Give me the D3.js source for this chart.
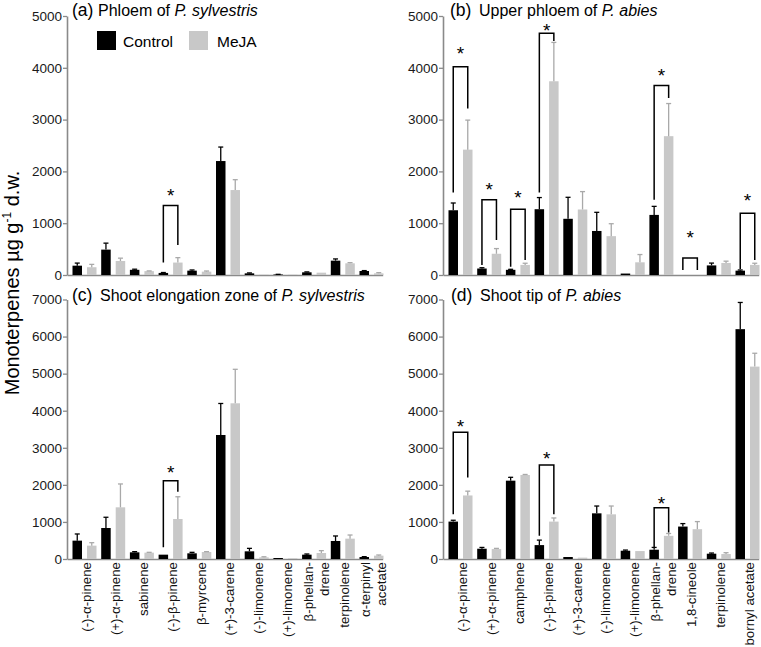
<!DOCTYPE html>
<html><head><meta charset="utf-8">
<script src="https://cdn.jsdelivr.net/npm/d3@7"></script>
<style>
body{margin:0;background:#fff}
svg{display:block}
text{font-family:"Liberation Sans",Arial,Helvetica,sans-serif}
</style>
</head><body>
<svg id="chart" width="761" height="647"></svg>
<script>
// ---------------- DATA ----------------
const seriesNames = ["Control", "MeJA"];

const categoriesSylvestris = ["(-)-α-pinene", "(+)-α-pinene", "sabinene", "(-)-β-pinene", "β-myrcene",
  "(+)-3-carene", "(-)-limonene", "(+)-limonene", "β-phellan-\ndrene", "terpinolene", "α-terpinyl\nacetate"];
const categoriesAbies = ["(-)-α-pinene", "(+)-α-pinene", "camphene", "(-)-β-pinene", "(+)-3-carene",
  "(-)-limonene", "(+)-limonene", "β-phellan-\ndrene", "1,8-cineole", "terpinolene", "bornyl acetate"];

const yTicksTop = [0, 1000, 2000, 3000, 4000, 5000];
const yTicksBottom = [0, 1000, 2000, 3000, 4000, 5000, 6000, 7000];

// (a) Phloem of P. sylvestris
const aControl    = [180, 490, 100, 40, 84, 2200, 32, 10, 52, 277, 77];
const aControlErr = [50, 125, 12, 8, 13, 270, 8, 3, 8, 33, 8];
const aMeja       = [150, 270, 75, 240, 65, 1640, 5, 5, 45, 226, 32];
const aMejaErr    = [55, 55, 4, 95, 12, 200, 0, 0, 0, 13, 13];
// brackets: [category index, top, left leg bottom, right leg bottom, star centre]
const aBrackets   = [[3, 1342, 240, 580, 1630]];

// (b) Upper phloem of P. abies
const bControl    = [1250, 125, 100, 1270, 1085, 850, 28, 1160, 0, 185, 84];
const bControlErr = [140, 15, 10, 225, 415, 360, 0, 165, 0, 45, 13];
const bMeja       = [2420, 410, 195, 3740, 1265, 750, 245, 2680, 0, 232, 195];
const bMejaErr    = [570, 100, 32, 750, 345, 240, 150, 630, 0, 35, 32];
const bBrackets   = [[0, 4019, 1594, 3213, 4355], [1, 1452, 194, 677, 1742], [2, 1271, 160, 290, 1580],
  [3, 4665, 1594, 4516, 4800], [7, 3658, 1452, 3419, 3935], [8, 329, 95, 95, 806], [10, 1194, 116, 290, 1516]];

// (c) Shoot elongation zone of P. sylvestris
const cControl    = [495, 836, 180, 117, 153, 3345, 207, 27, 117, 486, 54];
const cControlErr = [180, 290, 18, 0, 27, 850, 80, 0, 18, 135, 9];
const cMeja       = [360, 1394, 171, 1079, 189, 4200, 45, 18, 162, 549, 90];
const cMejaErr    = [80, 630, 9, 600, 9, 917, 15, 0, 63, 98, 18];
const cBrackets   = [[3, 2113, 315, 1816, 2463]];

// (d) Shoot tip of P. abies
const dControl    = [1009, 277, 2113, 375, 54, 1232, 223, 250, 875, 143, 6200];
const dControlErr = [36, 35, 91, 134, 0, 197, 18, 62, 80, 18, 720];
const dMeja       = [1714, 268, 2266, 1009, 36, 1205, 214, 625, 804, 134, 5190];
const dMejaErr    = [116, 18, 14, 98, 0, 224, 0, 63, 205, 36, 360];
const dBrackets   = [[0, 3418, 1205, 2200, 3704], [3, 2536, 625, 1205, 2824], [7, 1384, 312, 714, 1607]];

// ---------------- LAYOUT ----------------
const panels = [
  {tag: "(a)", title: "Phloem of ", species: "P. sylvestris", cats: categoriesSylvestris,
   vals: [aControl, aMeja], errs: [aControlErr, aMejaErr], brackets: aBrackets, ticks: yTicksTop,
   left: 67, base: 275, top: 16, titleY: 16, tagX: 72, titleX: 98, xLabels: false, legend: true},
  {tag: "(b)", title: "Upper phloem of ", species: "P. abies", cats: categoriesAbies,
   vals: [bControl, bMeja], errs: [bControlErr, bMejaErr], brackets: bBrackets, ticks: yTicksTop,
   left: 443, base: 275, top: 16, titleY: 16, tagX: 450, titleX: 479, xLabels: false},
  {tag: "(c)", title: "Shoot elongation zone of ", species: "P. sylvestris", cats: categoriesSylvestris,
   vals: [cControl, cMeja], errs: [cControlErr, cMejaErr], brackets: cBrackets, ticks: yTicksBottom,
   left: 67, base: 559, top: 299.5, titleY: 300.5, tagX: 72, titleX: 100, xLabels: true},
  {tag: "(d)", title: "Shoot tip of ", species: "P. abies", cats: categoriesAbies,
   vals: [dControl, dMeja], errs: [dControlErr, dMejaErr], brackets: dBrackets, ticks: yTicksBottom,
   left: 443, base: 559, top: 299.5, titleY: 300.5, tagX: 451, titleX: 480, xLabels: true}
];

const STEP = 28.7;
const colors = {Control: "#000000", MeJA: "#c8c8c8"};
const errColors = {Control: "#000000", MeJA: "#a9a9a9"};
const axisColor = "#8a8a8a";
const STAR_FS = 19;

const svg = d3.select("#chart");

panels.forEach(p => {
  const g = svg.append("g");
  const x = d3.scaleBand().domain(p.cats).range([p.left, p.left + STEP * p.cats.length]).padding(0);
  const xs = d3.scaleBand().domain(seriesNames).range([5.5, 29.5]).paddingInner(0.345).paddingOuter(0);
  const y = d3.scaleLinear().domain([0, d3.max(p.ticks)]).range([p.base, p.top]);
  const bw = xs.bandwidth();

  // y axis
  const yAxis = d3.axisLeft(y).tickValues(p.ticks).tickSizeInner(4).tickSizeOuter(0).tickPadding(1)
    .tickFormat(d3.format("d"));
  const yg = g.append("g").attr("transform", `translate(${p.left},0)`).call(yAxis);
  yg.select(".domain").attr("stroke", axisColor).attr("stroke-width", 1.6);
  yg.selectAll(".tick line").attr("stroke", axisColor).attr("stroke-width", 1.3);
  yg.selectAll(".tick text").attr("font-size", 13.5).attr("fill", "#1a1a1a")
    .attr("font-family", '"Liberation Sans",Arial,sans-serif');

  // x axis
  const xAxis = d3.axisBottom(x).tickSize(0).tickFormat("");
  const xg = g.append("g").attr("transform", `translate(0,${p.base})`).call(xAxis);
  xg.select(".domain").attr("stroke", axisColor).attr("stroke-width", 1.6);

  // bars
  seriesNames.forEach((s, si) => {
    const vals = p.vals[si], errs = p.errs[si];
    g.append("g").selectAll("rect").data(p.cats).join("rect")
      .attr("x", c => x(c) + xs(s))
      .attr("y", (c, i) => y(vals[i]))
      .attr("width", bw)
      .attr("height", (c, i) => y(0) - y(vals[i]))
      .attr("fill", colors[s]);
    const eg = g.append("g").attr("stroke", errColors[s]).attr("stroke-width", 1.3);
    p.cats.forEach((c, i) => {
      if (!errs[i]) return;
      const cx = x(c) + xs(s) + bw / 2;
      eg.append("line").attr("x1", cx).attr("x2", cx).attr("y1", y(vals[i])).attr("y2", y(vals[i] + errs[i]));
      eg.append("line").attr("x1", cx - 2.5).attr("x2", cx + 2.5).attr("y1", y(vals[i] + errs[i])).attr("y2", y(vals[i] + errs[i]));
    });
  });

  // significance brackets
  p.brackets.forEach(([ci, topV, lb, rb, starV]) => {
    const c = p.cats[ci];
    const lx = x(c) + xs("Control") + bw / 2;
    const rx = x(c) + xs("MeJA") + bw / 2;
    g.append("path")
      .attr("d", `M${lx},${y(lb)}V${y(topV)}H${rx}V${y(rb)}`)
      .attr("fill", "none").attr("stroke", "#000").attr("stroke-width", 1.5);
    g.append("text").attr("x", (lx + rx) / 2).attr("y", y(starV) + STAR_FS * 0.58)
      .attr("text-anchor", "middle").attr("font-size", STAR_FS).text("*");
  });

  // x labels
  if (p.xLabels) {
    p.cats.forEach(c => {
      const lines = c.split("\n");
      const cx = x(c) + x.bandwidth() / 2;
      lines.forEach((ln, li) => {
        const bx = lines.length === 1 ? cx + 9.5 : cx + 2 + li * 16;
        g.append("text")
          .attr("transform", `translate(${bx},${p.base + 3}) rotate(-90)`)
          .attr("text-anchor", "end").attr("font-size", 13.3).attr("fill", "#111").text(ln);
      });
    });
  }

  // titles
  g.append("text").attr("x", p.tagX).attr("y", p.titleY).attr("font-size", 17.5).text(p.tag);
  const t = g.append("text").attr("x", p.titleX).attr("y", p.titleY).attr("font-size", 16);
  t.append("tspan").text(p.title);
  t.append("tspan").attr("font-style", "italic").text(p.species);

  // legend
  if (p.legend) {
    const lg = g.append("g");
    const items = [{s: "Control", x: 97, tx: 123}, {s: "MeJA", x: 189, tx: 217}];
    items.forEach(it => {
      lg.append("rect").attr("x", it.x).attr("y", 31).attr("width", 19).attr("height", 19).attr("fill", colors[it.s]);
      lg.append("text").attr("x", it.tx).attr("y", 46.5).attr("font-size", 15.5).text(it.s);
    });
  }
});

// y axis title
const yt = svg.append("text").attr("transform", "translate(19,283) rotate(-90)")
  .attr("text-anchor", "middle").attr("font-size", 20);
yt.append("tspan").text("Monoterpenes µg g");
yt.append("tspan").attr("font-size", 12).attr("dy", -8).text("-1");
yt.append("tspan").attr("dy", 8).text(" d.w.");
</script>
</body></html>
